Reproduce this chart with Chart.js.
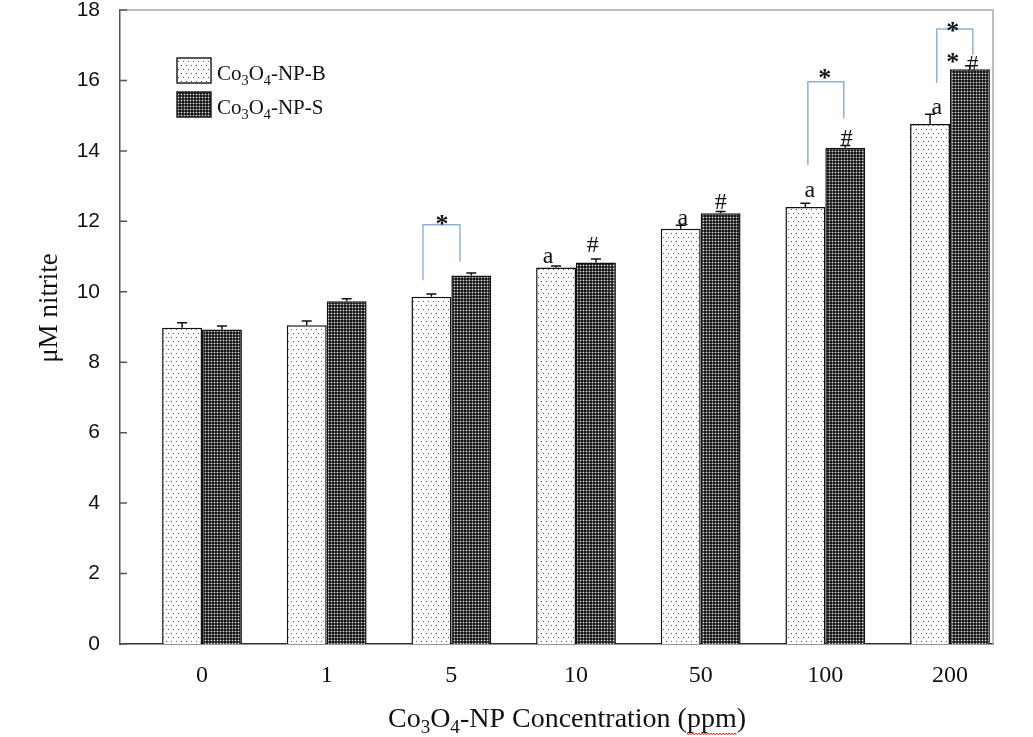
<!DOCTYPE html>
<html>
<head>
<meta charset="utf-8">
<script src="https://cdn.jsdelivr.net/npm/chart.js@4.4.1/dist/chart.umd.min.js"></script>
<style>
  html, body { margin: 0; padding: 0; background: #fff; }
  #wrap { width: 1033px; height: 737px; }
</style>
</head>
<body>
<div id="wrap"><canvas id="chart"></canvas></div>
<script>
/* ---- data ---- */
var categories = ['0', '1', '5', '10', '50', '100', '200'];
var seriesNames = ['Co_3O_4-NP-B', 'Co_3O_4-NP-S'];
var valuesB = [8.98, 9.05, 9.86, 10.69, 11.79, 12.41, 14.76];
var valuesS = [8.93, 9.73, 10.46, 10.83, 12.23, 14.09, 16.32];
var errorsB = [0.14, 0.12, 0.08, 0.04, 0.10, 0.10, 0.28];
var errorsS = [0.10, 0.07, 0.07, 0.10, 0.05, 0.06, 0.10];
var yTicks = [0, 2, 4, 6, 8, 10, 12, 14, 16, 18];
var xTitle = 'Co_3O_4-NP Concentration (ppm)';
var yTitle = '\u03bcM nitrite';

// significance marks: [x (category units), y (value), text]
var letterMarks = [[2.775, 10.99, 'a'], [3.857, 12.07, 'a'], [4.876, 12.86, 'a'], [5.894, 15.22, 'a']];
var hashMarks = [[3.135, 11.30, '#'], [4.162, 12.52, '#'], [5.172, 14.34, '#']];
var hiddenHash = [[6.183, 16.45, '#']];   // mostly covered by the 200 ppm bar
var starMarks = [[1.925, 12.04], [4.996, 16.18], [6.022, 17.52], [6.022, 16.64]];
// brackets: [left x, right x, top, left leg bottom, right leg bottom]
var brackets = [[1.772, 2.069, 11.90, 10.33, 10.85],
                [4.860, 5.148, 15.96, 13.60, 14.93],
                [5.894, 6.183, 17.46, 15.93, 16.72]];

var serif = "'Liberation Serif', 'Times New Roman', serif";
var sans = "'Liberation Sans', Arial, sans-serif";

/* ---- fill patterns ---- */
function makePattern(kind) {
  var c = document.createElement('canvas');
  var g = c.getContext('2d');
  if (kind === 'dots') {
    c.width = 5; c.height = 8;
    g.fillStyle = '#fff'; g.fillRect(0, 0, 5, 8);
    g.fillStyle = '#555';
    g.fillRect(1, 1, 1, 1);
    g.fillRect(3, 5, 1, 1);
  } else {
    c.width = 3; c.height = 3;
    g.fillStyle = '#1a1a1a'; g.fillRect(0, 0, 3, 3);
    g.fillStyle = '#555';
    g.fillRect(1, 0, 1, 3);
    g.fillRect(0, 1, 3, 1);
    g.fillStyle = '#ddd'; g.fillRect(1, 1, 1, 1);
  }
  return g.createPattern(c, 'repeat');
}
var patB = makePattern('dots');
var patS = makePattern('dense');

/* ---- text with subscripts: "_x" lowers one char ---- */
function richParts(str) {
  var parts = [];
  for (var i = 0; i < str.length; i++) {
    if (str[i] === '_' && i + 1 < str.length) { parts.push({t: str[i + 1], sub: true}); i++; }
    else if (parts.length && !parts[parts.length - 1].sub) parts[parts.length - 1].t += str[i];
    else parts.push({t: str[i], sub: false});
  }
  return parts;
}
function richWidth(ctx, str, size, family) {
  var w = 0;
  richParts(str).forEach(function(p) {
    ctx.font = (p.sub ? size * 0.68 : size) + 'px ' + family;
    w += ctx.measureText(p.t).width;
  });
  return w;
}
function drawRich(ctx, str, x, y, size, family, align) {
  var w = richWidth(ctx, str, size, family);
  if (align === 'center') x -= w / 2;
  ctx.textBaseline = 'alphabetic';
  ctx.textAlign = 'left';
  richParts(str).forEach(function(p) {
    ctx.font = (p.sub ? size * 0.68 : size) + 'px ' + family;
    ctx.fillText(p.t, x, p.sub ? y + size * 0.22 : y);
    x += ctx.measureText(p.t).width;
  });
  return x;
}

/* ---- decorations ---- */
var decorations = {
  id: 'decorations',
  beforeDraw: function(chart) {
    var ctx = chart.ctx;
    ctx.save();
    ctx.fillStyle = '#fff';
    ctx.fillRect(0, 0, chart.width, chart.height);
    ctx.restore();
  },
  beforeDatasetsDraw: function(chart) {
    var ctx = chart.ctx, xs = chart.scales.x, ys = chart.scales.y;
    ctx.save();
    ctx.fillStyle = '#111';
    ctx.textAlign = 'center';
    ctx.textBaseline = 'middle';
    ctx.font = '23px ' + serif;
    hiddenHash.forEach(function(m) {
      ctx.fillText(m[2], xs.getPixelForValue(m[0]), ys.getPixelForValue(m[1]));
    });
    ctx.restore();
  },
  afterDatasetsDraw: function(chart) {
    var ctx = chart.ctx, xs = chart.scales.x, ys = chart.scales.y, a = chart.chartArea;
    ctx.save();

    // error bars
    [[valuesB, errorsB], [valuesS, errorsS]].forEach(function(pair, d) {
      var meta = chart.getDatasetMeta(d);
      meta.data.forEach(function(bar, i) {
        var top = ys.getPixelForValue(pair[0][i] + pair[1][i]);
        ctx.strokeStyle = '#111';
        ctx.lineWidth = 1.5;
        ctx.beginPath();
        ctx.moveTo(bar.x, bar.y);
        ctx.lineTo(bar.x, top);
        ctx.moveTo(bar.x - 5, top);
        ctx.lineTo(bar.x + 5, top);
        ctx.stroke();
      });
    });

    // frame top / right
    ctx.strokeStyle = '#a8a8a8';
    ctx.lineWidth = 1.5;
    ctx.beginPath();
    ctx.moveTo(a.left, a.top);
    ctx.lineTo(a.right, a.top);
    ctx.lineTo(a.right, a.bottom);
    ctx.stroke();

    // inward y ticks
    ctx.strokeStyle = '#555';
    ctx.beginPath();
    yTicks.forEach(function(v) {
      var y = ys.getPixelForValue(v);
      ctx.moveTo(a.left, y);
      ctx.lineTo(a.left + 7, y);
    });
    ctx.stroke();

    // brackets
    ctx.strokeStyle = '#8fb1d9';
    ctx.lineWidth = 1.5;
    brackets.forEach(function(b) {
      var x1 = xs.getPixelForValue(b[0]), x2 = xs.getPixelForValue(b[1]);
      var t = ys.getPixelForValue(b[2]);
      ctx.beginPath();
      ctx.moveTo(x1, ys.getPixelForValue(b[3]));
      ctx.lineTo(x1, t);
      ctx.lineTo(x2, t);
      ctx.lineTo(x2, ys.getPixelForValue(b[4]));
      ctx.stroke();
    });

    // letters
    ctx.fillStyle = '#111';
    ctx.textAlign = 'center';
    ctx.textBaseline = 'middle';
    ctx.font = '24px ' + serif;
    letterMarks.concat(hashMarks).forEach(function(m) {
      ctx.fillText(m[2], xs.getPixelForValue(m[0]), ys.getPixelForValue(m[1]));
    });
    ctx.font = 'bold 26px ' + serif;
    starMarks.forEach(function(m) {
      ctx.fillText('*', xs.getPixelForValue(m[0]), ys.getPixelForValue(m[1]) + 5);
    });
    ctx.restore();
  },
  afterDraw: function(chart) {
    var ctx = chart.ctx;
    ctx.save();
    ctx.fillStyle = '#111';

    // x title
    var end = drawRich(ctx, xTitle, 567, 727, 28, serif, 'center');
    var wp = richWidth(ctx, 'ppm)', 28, serif);
    var wq = richWidth(ctx, ')', 28, serif);
    var px0 = end - wp, px1 = end - wq;
    ctx.strokeStyle = '#e03030';
    ctx.lineWidth = 1;
    ctx.beginPath();
    for (var x = px0; x <= px1; x += 1.5) {
      var yy = 734 + ((Math.round((x - px0) / 1.5) % 2) ? 1 : -1);
      if (x === px0) ctx.moveTo(x, yy); else ctx.lineTo(x, yy);
    }
    ctx.stroke();

    // y title
    ctx.translate(50, 308);
    ctx.rotate(-Math.PI / 2);
    ctx.font = '27px ' + serif;
    ctx.textAlign = 'center';
    ctx.textBaseline = 'middle';
    ctx.fillText(yTitle, 0, 0);
    ctx.setTransform(1, 0, 0, 1, 0, 0);
    ctx.restore();

    // legend
    ctx.save();
    var boxes = [[177, 58, patB], [177, 92, patS]];
    boxes.forEach(function(b, i) {
      ctx.fillStyle = b[2];
      ctx.fillRect(b[0], b[1], 34, 25);
      ctx.strokeStyle = '#222';
      ctx.lineWidth = 1.5;
      ctx.strokeRect(b[0], b[1], 34, 25);
      ctx.fillStyle = '#111';
      drawRich(ctx, seriesNames[i], 217, b[1] + 22, 21, serif, 'left');
    });
    ctx.restore();
  }
};

var ctx = document.getElementById('chart');
new Chart(ctx, {
  type: 'bar',
  data: {
    datasets: [{
      label: seriesNames[0],
      data: valuesB.map(function(v, i) { return {x: i, y: v}; }),
      backgroundColor: patB,
      borderColor: '#111',
      borderWidth: 1.5,
      borderSkipped: 'bottom'
    }, {
      label: seriesNames[1],
      data: valuesS.map(function(v, i) { return {x: i, y: v}; }),
      backgroundColor: patS,
      borderColor: '#111',
      borderWidth: 1.5,
      borderSkipped: 'bottom'
    }]
  },
  options: {
    responsive: true,
    maintainAspectRatio: false,
    animation: false,
    categoryPercentage: 0.64,
    barPercentage: 1.0,
    layout: { padding: { top: 10, right: 40, left: 0, bottom: 0 } },
    plugins: {
      legend: { display: false },
      tooltip: { enabled: false }
    },
    scales: {
      x: {
        type: 'linear',
        offset: false,
        min: -0.658,
        max: 6.345,
        afterBuildTicks: function(s) {
          s.ticks = categories.map(function(c, i) { return {value: i}; });
        },
        afterFit: function(s) { s.height = 93; },
        ticks: {
          autoSkip: false,
          maxRotation: 0,
          padding: 9,
          color: '#111',
          font: { family: serif, size: 24 },
          callback: function(v) { return categories[v]; }
        },
        grid: { display: false },
        border: { display: true, color: '#333', width: 1.5 }
      },
      y: {
        min: 0,
        max: 18,
        afterBuildTicks: function(s) {
          s.ticks = yTicks.map(function(v) { return {value: v}; });
        },
        afterFit: function(s) { s.width = 120; },
        ticks: {
          padding: 0,
          color: '#111',
          font: { family: sans, size: 21, lineHeight: 0.9 }
        },
        grid: { display: false, tickLength: 20 },
        border: { display: true, color: '#555', width: 1.5 }
      }
    }
  },
  plugins: [decorations]
});
</script>
</body>
</html>
